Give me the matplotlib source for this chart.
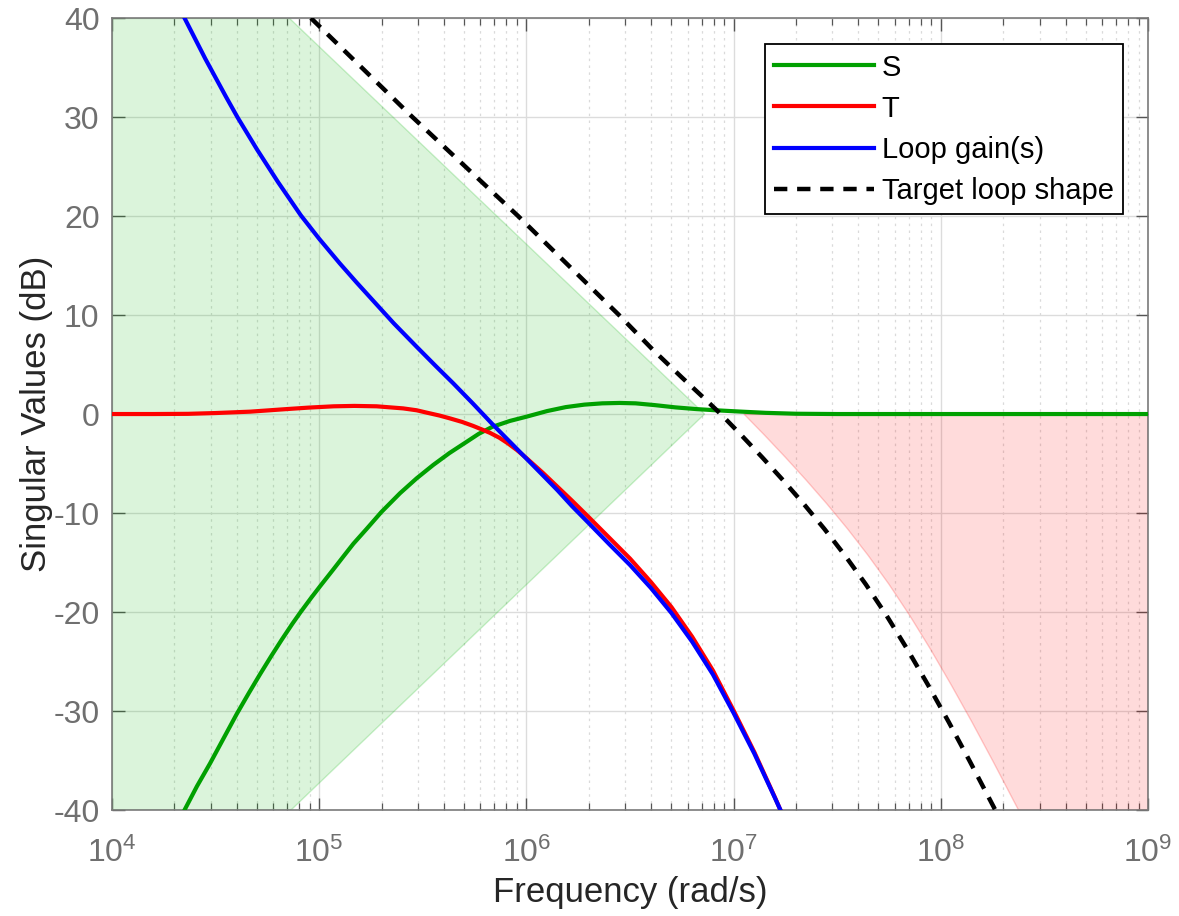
import numpy as np
import matplotlib
matplotlib.use("Agg")
import matplotlib.pyplot as plt
from matplotlib.ticker import FixedLocator, LogLocator, NullFormatter

# ---------------- data: log10(frequency in rad/s) and singular values in dB ----------------
s_logw = [4.35, 4.41, 4.473, 4.54, 4.602, 4.66, 4.714, 4.77, 4.819, 4.87,
          4.907, 4.96, 5.004, 5.068, 5.12, 5.165, 5.229, 5.3, 5.39, 5.47,
          5.55, 5.628, 5.712, 5.77, 5.835, 5.92, 6.0, 6.1, 6.19, 6.28,
          6.366, 6.45, 6.527, 6.62, 6.72, 6.82, 6.913, 7.03, 7.155, 7.3,
          7.5, 9.0]
s_db = [-40, -37.6, -35.3, -32.7, -30.3, -28.2, -26.3, -24.4, -22.8, -21.2,
        -20.1, -18.6, -17.4, -15.7, -14.3, -13.1, -11.6, -9.9, -8.0, -6.5,
        -5.15, -3.95, -2.8, -2.0, -1.3, -0.7, -0.27, 0.3, 0.7, 0.95,
        1.08, 1.12, 1.08, 0.9, 0.67, 0.5, 0.38, 0.25, 0.12, 0.03,
        0.0, 0.0]

t_logw = [4.0, 4.2, 4.367, 4.5, 4.667, 4.843, 4.95, 5.07, 5.17, 5.277,
          5.405, 5.47, 5.519, 5.58, 5.631, 5.69, 5.743, 5.79, 5.824, 5.87,
          5.91, 5.955, 6.0, 6.08, 6.15, 6.22, 6.3, 6.4, 6.5, 6.6,
          6.7, 6.8, 6.9, 7.0, 7.1, 7.2, 7.226]
t_db = [0.0, 0.0, 0.02, 0.1, 0.24, 0.5, 0.65, 0.78, 0.82, 0.78,
        0.57, 0.38, 0.14, -0.15, -0.44, -0.8, -1.2, -1.6, -1.9, -2.4,
        -2.95, -3.65, -4.45, -5.95, -7.35, -8.75, -10.4, -12.5, -14.6, -16.95,
        -19.5, -22.5, -25.9, -29.95, -34.15, -38.75, -40]

l_logw = [4.35, 4.45, 4.55, 4.605, 4.7, 4.8, 4.911, 5.0, 5.1, 5.18,
          5.256, 5.36, 5.47, 5.56, 5.647, 5.74, 5.835, 5.92, 6.0, 6.08,
          6.15, 6.22, 6.3, 6.4, 6.5, 6.6, 6.7, 6.8, 6.9, 7.0,
          7.1, 7.2, 7.226]
l_db = [40, 35.9, 32.05, 30.0, 26.72, 23.47, 20.08, 17.7, 15.2, 13.3,
        11.55, 9.16, 6.8, 4.9, 3.1, 1.1, -1.0, -2.8, -4.5, -6.2,
        -7.7, -9.3, -11.0, -13.15, -15.25, -17.55, -20.1, -23.0, -26.3, -30.2,
        -34.3, -38.8, -40]

target_logw = [4.96, 5.45, 5.96, 6.447, 6.61, 6.75, 6.85, 6.938, 7.038, 7.138,
               7.238, 7.338, 7.438, 7.538, 7.638, 7.738, 7.838, 7.938, 8.038, 8.138,
               8.238, 8.263]
target_db = [40, 30, 20, 10, 6.5, 3.7, 1.75, 0, -2.15, -4.37,
             -6.67, -9.07, -11.6, -14.3, -17.2, -20.35, -23.75, -27.35, -31.1, -35.0,
             -39.0, -40]

# shaded regions
green_shade_logw = [4.0, 4.855, 6.86, 4.864, 4.0]
green_shade_db = [40, 40, 0, -40, -40]

red_shade_logw = [7.05, 7.15, 7.25, 7.35, 7.45, 7.55, 7.65, 7.75, 7.85, 7.95,
                  8.05, 8.15, 8.25, 8.35, 8.375, 9.0, 9.0]
red_shade_db = [0, -2.15, -4.37, -6.67, -9.07, -11.6, -14.3, -17.2, -20.35, -23.75,
                -27.35, -31.1, -35.0, -39.0, -40, -40, 0]

x_tick_exponents = [4, 5, 6, 7, 8, 9]
y_ticks = [-40, -30, -20, -10, 0, 10, 20, 30, 40]
legend_labels = ["S", "T", "Loop gain(s)", "Target loop shape"]


def hz(logw):
    return np.power(10.0, np.asarray(logw, dtype=float))


# ---------------- style ----------------
plt.rcParams["font.family"] = ["Liberation Sans", "DejaVu Sans"]
plt.rcParams["mathtext.fontset"] = "custom"
plt.rcParams["mathtext.rm"] = "Liberation Sans"
plt.rcParams["mathtext.it"] = "Liberation Sans:italic"
plt.rcParams["axes.unicode_minus"] = False

fig = plt.figure(figsize=(11.79, 9.16), dpi=100)
ax = fig.add_axes([0.095, 0.1157, 0.8787, 0.8646])

ax.set_xscale("log")
ax.set_xlim(1e4, 1e9)
ax.set_ylim(-40, 40)

ax.fill(hz(green_shade_logw), green_shade_db, facecolor=(0.0, 0.72, 0.0, 0.14),
        edgecolor=(0.0, 0.7, 0.0, 0.2), linewidth=1.0, zorder=1)
ax.fill(hz(red_shade_logw), red_shade_db, facecolor=(1.0, 0.0, 0.0, 0.14),
        edgecolor=(1.0, 0.0, 0.0, 0.2), linewidth=1.0, zorder=1)

lw = 3.0
ax.plot(hz(s_logw), s_db, color="#00A000", lw=lw, label=legend_labels[0], zorder=3,
        solid_joinstyle="round")
ax.plot(hz(t_logw), t_db, color="#FF0000", lw=lw, label=legend_labels[1], zorder=3,
        solid_joinstyle="round")
ax.plot(hz(l_logw), l_db, color="#0000FF", lw=lw, label=legend_labels[2], zorder=3,
        solid_joinstyle="round")
ax.plot(hz(target_logw), target_db, color="black", lw=3.2, dashes=(3.0, 2.2),
        label=legend_labels[3], zorder=4)

# ticks
ax.xaxis.set_major_locator(FixedLocator([10.0 ** e for e in x_tick_exponents]))
ax.set_xticklabels([r"$\mathregular{10^{%d}}$" % e for e in x_tick_exponents])
ax.xaxis.set_minor_locator(LogLocator(base=10, subs=np.arange(2, 10), numticks=50))
ax.xaxis.set_minor_formatter(NullFormatter())
ax.set_yticks(y_ticks)
ax.set_yticklabels([str(v) for v in y_ticks])

tick_color = "#6f6f6f"
ax.tick_params(axis="both", which="major", direction="in", length=9, width=1.0,
               top=True, right=True, labelsize=23, labelcolor=tick_color, color="#555555")
ax.tick_params(axis="x", which="major", pad=20)
ax.tick_params(axis="y", which="major", pad=9)
ax.tick_params(axis="x", which="minor", direction="in", length=5, width=0.9,
               top=True, bottom=True, color="#555555")

for sp in ax.spines.values():
    sp.set_color("#7a7a7a")
    sp.set_linewidth(1.2)

ax.set_axisbelow(True)
ax.grid(True, which="major", axis="both", color="#dcdcdc", linewidth=1.0, linestyle="-")
ax.grid(True, which="minor", axis="x", color="#dadada", linewidth=0.9, linestyle=(0, (2, 3.5)))

ax.set_xlabel("Frequency (rad/s)", fontsize=25, color="#262626", labelpad=5)
ax.set_ylabel("Singular Values (dB)", fontsize=25, color="#262626", labelpad=0)

leg = ax.legend(loc="upper right", bbox_to_anchor=(0.9759, 0.967), borderaxespad=0,
                fontsize=21, frameon=True, fancybox=False, framealpha=1,
                edgecolor="black", handlelength=3.4, handletextpad=0.28,
                labelspacing=0.45, borderpad=0.32)
leg.get_frame().set_linewidth(1.3)

fig.savefig("out.png", dpi=100)
